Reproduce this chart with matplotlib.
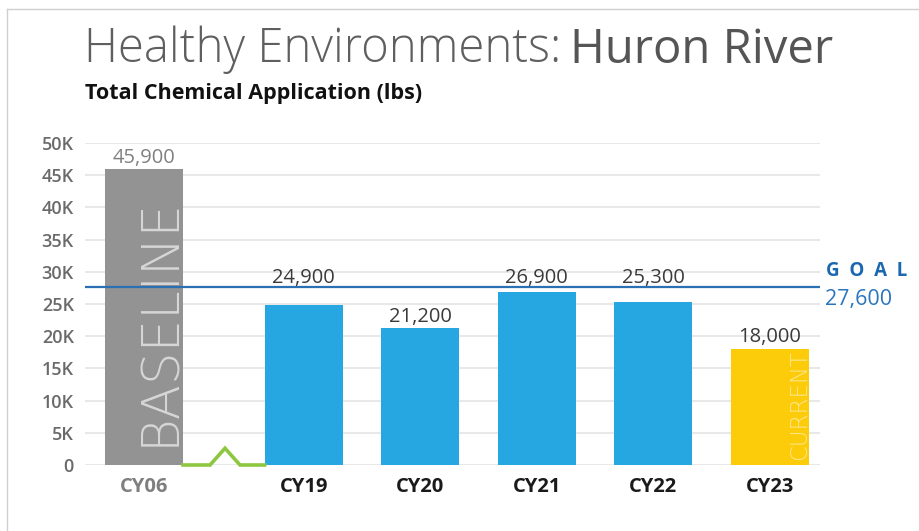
import matplotlib
matplotlib.use("Agg")
import matplotlib.pyplot as plt
from matplotlib.lines import Line2D

# ---- data ----
categories = ["CY06", "CY19", "CY20", "CY21", "CY22", "CY23"]
values = [45900, 24900, 21200, 26900, 25300, 18000]
value_labels = ["45,900", "24,900", "21,200", "26,900", "25,300", "18,000"]
goal = 27600
goal_label = "27,600"
ytick_vals = [0, 5000, 10000, 15000, 20000, 25000, 30000, 35000, 40000, 45000, 50000]
ytick_labels = ["0", "5K", "10K", "15K", "20K", "25K", "30K", "35K", "40K", "45K", "50K"]
# positions (gap between baseline and CY19 for the axis break)
positions = [0, 1.37, 2.37, 3.37, 4.37, 5.37]
bar_colors = ["#939393", "#26a7e1", "#26a7e1", "#26a7e1", "#26a7e1", "#fccc0a"]
label_colors = ["#808080", "#3a3a3a", "#3a3a3a", "#3a3a3a", "#3a3a3a", "#3a3a3a"]
xlabel_colors = ["#7f7f7f", "#1a1a1a", "#1a1a1a", "#1a1a1a", "#1a1a1a", "#1a1a1a"]
# axis-break zigzag marker
break_x = [0.335, 0.567, 0.695, 0.824, 1.035]
break_y = [0, 0, 2600, 0, 0]

FONT = "Open Sans"
plt.rcParams["font.family"] = [FONT, "DejaVu Sans"]

fig = plt.figure(figsize=(9.2, 5.31), dpi=100)
fig.patch.set_facecolor("white")

# frame lines (top and left)
fig.add_artist(Line2D([7/920, 918/920], [1-9/531, 1-9/531], color="#cfcfcf", lw=1.0))
fig.add_artist(Line2D([7/920, 7/920], [1-9/531, 0], color="#cfcfcf", lw=1.0))

ax = fig.add_axes([85/920, 1-465/531, (820-85)/920, (465-143)/531])
ax.set_xlim(-0.506, 5.80)
ax.set_ylim(0, 50000)
for s in ax.spines.values():
    s.set_visible(False)

for yv in ytick_vals:
    ax.axhline(yv, color="#e8e8e8", lw=1.5, zorder=0)

bw = 0.67
ax.bar(positions, values, width=bw, color=bar_colors, zorder=2)

ax.plot(break_x, break_y, color="#8dc63f", lw=2.6, zorder=3, clip_on=False,
        solid_joinstyle="miter")

ax.axhline(goal, color="#2b70b5", lw=1.6, zorder=4)

ax.set_yticks(ytick_vals)
ax.set_yticklabels(ytick_labels)
ax.tick_params(axis="y", length=0, pad=8, labelsize=13, labelcolor="#6a6a6a")
for t in ax.get_yticklabels():
    t.set_fontweight("semibold")

ax.set_xticks(positions)
ax.set_xticklabels(categories)
ax.tick_params(axis="x", length=0, pad=9, labelsize=14.5)
for t, c in zip(ax.get_xticklabels(), xlabel_colors):
    t.set_color(c)
    t.set_fontweight("bold")

for x, v, lab, c in zip(positions, values, value_labels, label_colors):
    y = v + 1050
    if v < goal and y + 2500 > goal:
        y = goal + 700  # lift labels above the goal line
    ax.text(x, y, lab, ha="center", va="baseline", fontsize=14.5, color=c, zorder=5)

# in-bar labels
ax.text(positions[0] + bw/2 + 0.015, 3000, "BASELINE", rotation=90, ha="right", va="bottom",
        fontsize=37, fontweight="light", color="#d6d6d6", zorder=5,
        family=["DejaVu Sans"])
ax.text(positions[5] + bw/2 + 0.015, 700, "CURRENT", rotation=90, ha="right", va="bottom",
        fontsize=16.5, fontweight="light", color="#fde68a", zorder=5,
        family=["DejaVu Sans"])

# goal labels
ax.text(5.85, goal + 900, "G  O  A  L", ha="left", va="bottom", fontsize=13.5,
        fontweight="bold", color="#1c68b0", clip_on=False)
ax.text(5.84, goal - 300, goal_label, ha="left", va="top", fontsize=15.5,
        color="#2a76bd", clip_on=False)

# titles
t1 = fig.text(84/920, 1-50/531, "Healthy Environments:", fontsize=34, fontweight="light",
              color="#5f5f5f", va="center", ha="left")
fig.canvas.draw()
bb = t1.get_window_extent()
fig.text(bb.x1/920 + 9/920, 1-50/531, "Huron River", fontsize=34, fontweight="normal",
         color="#555555", va="center", ha="left")
fig.text(85/920, 1-93/531, "Total Chemical Application (lbs)", fontsize=15.5,
         fontweight="bold", color="#111111", va="center", ha="left")

fig.savefig("out.png", dpi=100, facecolor="white")
